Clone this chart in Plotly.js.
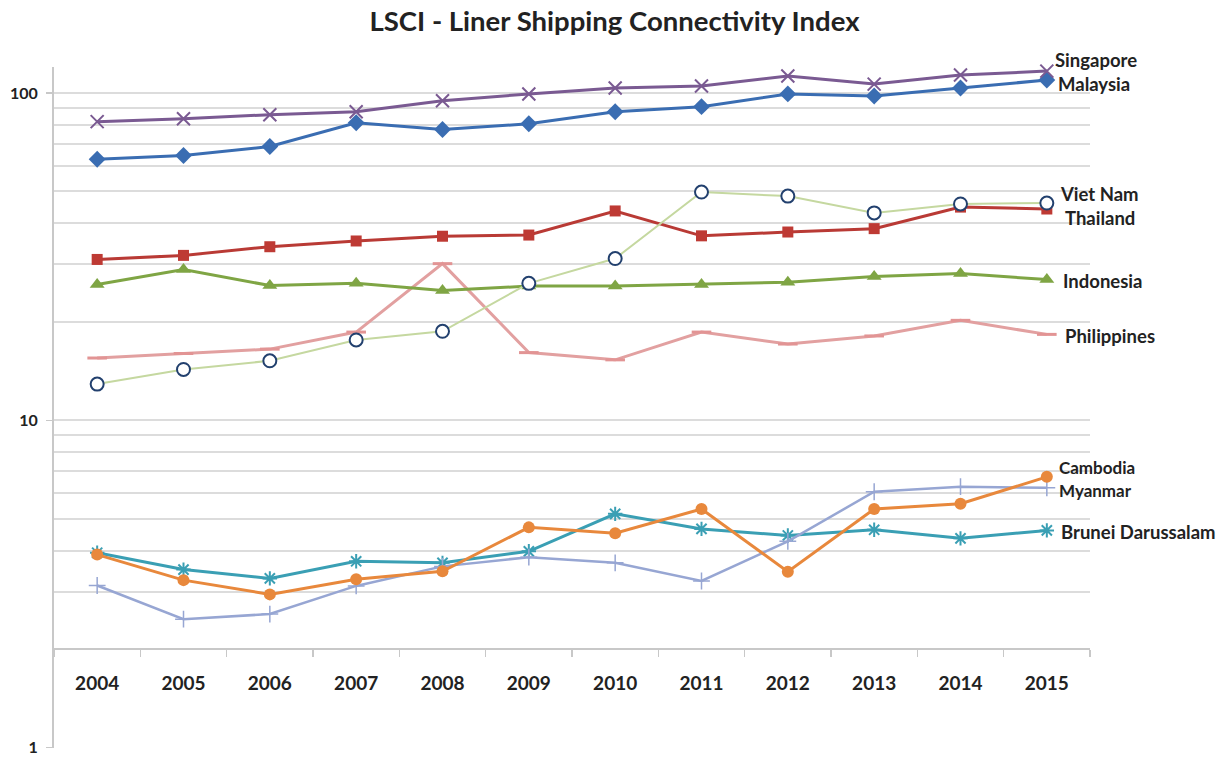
<!DOCTYPE html>
<html><head><meta charset="utf-8">
<script src="https://cdn.plot.ly/plotly-3.0.1.min.js"></script>
<style>html,body{margin:0;padding:0;background:#fff}#chart{width:1229px;height:758px}</style>
</head><body><div id="chart"></div>
<script>
const years = ['2004','2005','2006','2007','2008','2009','2010','2011','2012','2013','2014','2015'];
const singapore = [81.7, 83.4, 85.8, 87.6, 94.6, 99.3, 103.5, 105.0, 112.6, 106.4, 113.4, 116.6];
const malaysia  = [62.7, 64.4, 68.6, 81.1, 77.3, 80.5, 87.6, 90.8, 99.3, 97.9, 103.5, 109.5];
const thailand  = [31.0, 31.9, 33.9, 35.3, 36.5, 36.8, 43.6, 36.6, 37.6, 38.5, 44.8, 44.2];
const vietnam   = [12.9, 14.3, 15.2, 17.6, 18.7, 26.2, 31.2, 49.8, 48.4, 43.0, 45.8, 46.1];
const indonesia = [26.0, 28.9, 25.8, 26.2, 24.9, 25.7, 25.7, 26.0, 26.4, 27.5, 28.1, 26.9];
const philippines = [15.5, 16.0, 16.5, 18.6, 30.1, 16.1, 15.3, 18.6, 17.1, 18.1, 20.2, 18.3];
const cambodia  = [3.89, 3.25, 2.94, 3.27, 3.46, 4.71, 4.52, 5.36, 3.45, 5.36, 5.56, 6.72];
const myanmar   = [3.13, 2.47, 2.56, 3.12, 3.58, 3.82, 3.67, 3.23, 4.27, 6.05, 6.27, 6.22];
const brunei    = [3.94, 3.50, 3.29, 3.71, 3.67, 3.98, 5.18, 4.66, 4.45, 4.63, 4.36, 4.61];

const majorTicks = [1, 10, 100];
const minorTicks = [2,3,4,5,6,7,8,9,20,30,40,50,60,70,80,90];
const axisMin = 0.998;
const axisMax = 120;
const xAxisCross = 2;

const FONT = 'Lato, "Open Sans", sans-serif';

function series(name, y, color, lineWidth, marker) {
  return {type:'scatter', mode:'lines+markers', name:name, x:years, y:y,
    line:{color:color, width:lineWidth}, marker:marker, cliponaxis:false, showlegend:false};
}

const traces = [
  series('Brunei Darussalam', brunei, '#3A9FB4', 3, {symbol:'asterisk-open', size:12, color:'#3A9FB4', line:{color:'#3A9FB4', width:2}}),
  series('Myanmar', myanmar, '#97A6D3', 2.5, {symbol:'cross-thin-open', size:12, color:'#97A6D3', line:{color:'#97A6D3', width:1.5}}),
  series('Cambodia', cambodia, '#E8883C', 3, {symbol:'circle', size:12, color:'#E8883C'}),
  series('Philippines', philippines, '#E2A0A0', 3, {symbol:'line-ew', size:14, color:'#E29494', line:{color:'#E29494', width:3}}),
  series('Indonesia', indonesia, '#7FA544', 3, {symbol:'triangle-up', size:13, color:'#7FA544'}),
  series('Thailand', thailand, '#B93A35', 3, {symbol:'square', size:11, color:'#BE3A34'}),
  series('Viet Nam', vietnam, '#C5D8A0', 2, {symbol:'circle', size:13, color:'#FFFFFF', line:{color:'#22406E', width:2}}),
  series('Malaysia', malaysia, '#3A6DB2', 3, {symbol:'diamond', size:13, color:'#3A6DB2'}),
  series('Singapore', singapore, '#7A5A92', 3, {symbol:'x-thin-open', size:13, color:'#7A5A92', line:{color:'#7A5A92', width:2}})
];

const labelInfo = [
  ['Singapore', singapore, 7, 11, 18.5],
  ['Malaysia', malaysia, 10, -4, 18.5],
  ['Viet Nam', vietnam, 12, 9, 18.5],
  ['Thailand', thailand, 17, -9, 18.5],
  ['Indonesia', indonesia, 15, -1, 18.5],
  ['Philippines', philippines, 17, -2, 18.5],
  ['Cambodia', cambodia, 11, 9, 17],
  ['Myanmar', myanmar, 11, -3, 17],
  ['Brunei Darussalam', brunei, 13, -2, 18.5]
];
const annotations = labelInfo.map(([name, arr, dx, dy, fs]) => ({
  x: years.length - 1, y: Math.log10(arr[arr.length-1]), xref:'x', yref:'y',
  text: '<b>' + name + '</b>', showarrow:false, xanchor:'left', yanchor:'middle', xshift:dx, yshift:dy,
  borderpad:0, font:{family:FONT, size:fs, color:'#222'}
}));

const layout = {
  width:1229, height:758,
  margin:{l:54, r:139, t:67, b:10},
  paper_bgcolor:'#fff', plot_bgcolor:'#fff',
  title:{text:'<b>LSCI - Liner Shipping Connectivity Index</b>', x:0.5, xanchor:'center', y:0.972, yanchor:'middle',
         font:{family:FONT, size:27.5, color:'#222'}},
  xaxis:{type:'category', range:[-0.5, years.length-0.5], anchor:'free',
         position: (Math.log10(xAxisCross)-Math.log10(axisMin))/(Math.log10(axisMax)-Math.log10(axisMin)),
         showline:true, linecolor:'#C8C8C8', linewidth:2, showgrid:false, zeroline:false,
         ticks:'outside', tickson:'boundaries', ticklen:7, tickcolor:'#C8C8C8', tickwidth:1.5,
         ticklabelstandoff:17,
         tickfont:{family:FONT, size:19, color:'#222', weight:700}},
  yaxis:{type:'log', range:[Math.log10(axisMin), Math.log10(axisMax)], domain:[0,1],
         tickmode:'array', tickvals:majorTicks, ticktext:majorTicks.map(String),
         showline:true, linecolor:'#C8C8C8', linewidth:2, zeroline:false,
         showgrid:true, gridcolor:'#DCDCDC', gridwidth:2,
         ticks:'outside', ticklen:6, tickcolor:'#C8C8C8', tickwidth:1.5,
         ticklabelstandoff:5, ticklabeloverflow:'allow',
         tickfont:{family:FONT, size:16, color:'#222', weight:700},
         minor:{tickmode:'array', tickvals:minorTicks, showgrid:true, gridcolor:'#DCDCDC', gridwidth:2, ticks:''}},
  annotations: annotations
};

Plotly.newPlot('chart', traces, layout, {staticPlot:true, displayModeBar:false});
</script>
</body></html>
